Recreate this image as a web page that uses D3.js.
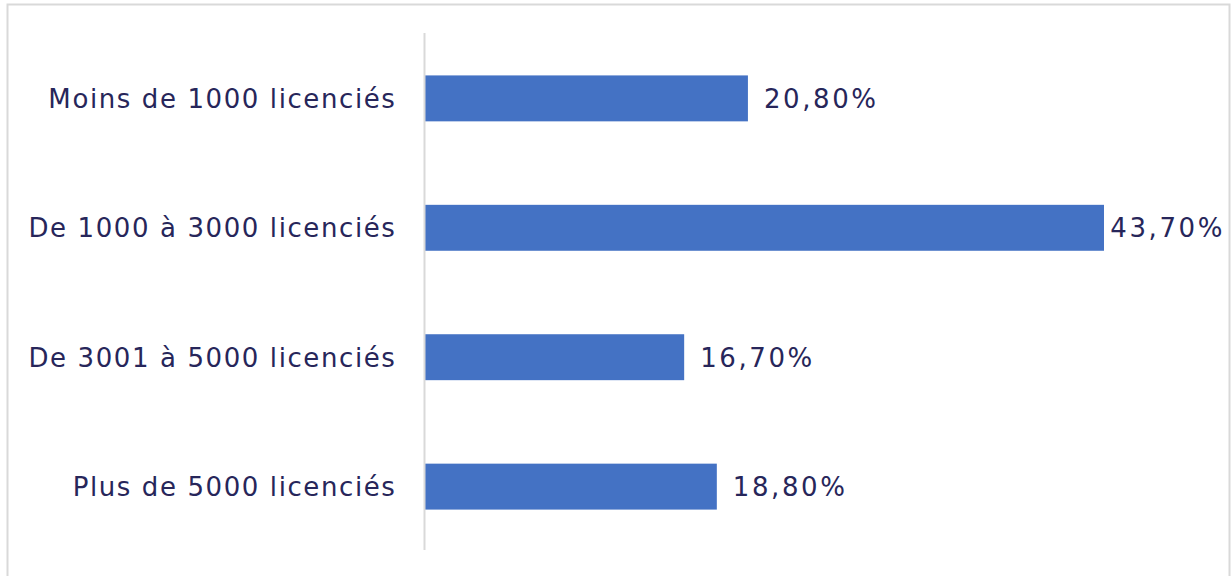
<!DOCTYPE html>
<html><head><meta charset="utf-8">
<script src="https://cdn.jsdelivr.net/npm/d3@7"></script>
<style>body{margin:0;background:#fff}svg{display:block}</style>
</head><body>
<svg id="c" width="1231" height="576"></svg>
<script>
const categories = ["Moins de 1000 licenciés","De 1000 à 3000 licenciés","De 3001 à 5000 licenciés","Plus de 5000 licenciés"];
const values = [20.8, 43.7, 16.7, 18.8];
const valueLabels = ["20,80%","43,70%","16,70%","18,80%"];

const svg = d3.select("#c");
const W = 1231, H = 576;
const font = "'DejaVu Sans', Verdana, sans-serif";
const txt = "#27265a";

svg.append("rect").attr("x",7.5).attr("y",4.5).attr("width",1222).attr("height",600)
  .attr("fill","#fff").attr("stroke","#d9d9d9").attr("stroke-width",2);

const x0 = 424.5;
const x = d3.scaleLinear().domain([0, 43.7]).range([x0, 1104]);
const y = d3.scaleBand().domain(categories).range([34, 551]).paddingInner(0.645).paddingOuter(0.32);

svg.selectAll("rect.bar").data(values).join("rect").attr("class","bar")
  .attr("x", x(0)).attr("y",(d,i)=>y(categories[i]))
  .attr("width", d=>x(d)-x(0)).attr("height", y.bandwidth())
  .attr("fill","#4472c4");

const yAxis = svg.append("g").attr("transform",`translate(${x0},0)`)
  .call(d3.axisLeft(y).tickSize(0).tickPadding(28));
yAxis.select(".domain").attr("stroke","#d9d9d9").attr("stroke-width",2).attr("d","M0,33V550");
yAxis.selectAll("text").attr("font-family",font).attr("font-size",26).attr("fill",txt)
  .attr("letter-spacing",1.6).attr("dy","0.36em");

const lab = svg.selectAll("text.val").data(values).join("text").attr("class","val")
  .attr("y",(d,i)=>y(categories[i])+y.bandwidth()/2).attr("dy","0.36em")
  .attr("font-family",font).attr("font-size",26).attr("fill",txt)
  .attr("letter-spacing",2.6)
  .text((d,i)=>valueLabels[i]);
lab.each(function(d){
  const w = this.getComputedTextLength();
  let px = x(d)+16;
  if (px + w > W-6) px = W-6-w;
  d3.select(this).attr("x",px);
});
</script>
</body></html>
